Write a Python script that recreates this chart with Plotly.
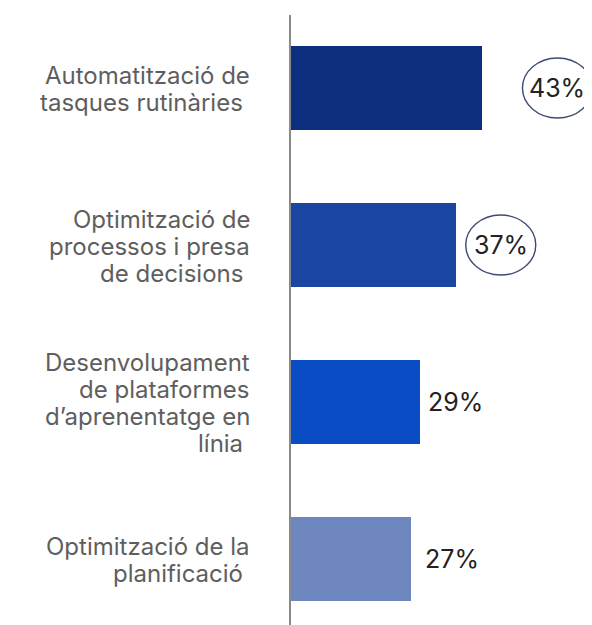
import plotly.graph_objects as go

categories = [
    "Automatització de<br>tasques rutinàries ",
    "Optimització de<br>processos i presa<br>de decisions ",
    "Desenvolupament<br>de plataformes<br>d’aprenentatge en<br>línia ",
    "Optimització de la<br>planificació ",
]
values = [43, 37, 29, 27]
value_labels = ["43%", "37%", "29%", "27%"]
circled = [True, True, False, False]
bar_colors = ["#0b2f7e", "#1a45a0", "#0a4cc4", "#6e87bf"]

FONT = "Inter, Lato, sans-serif"
ypos = list(range(len(categories)))

# page body has an 8px default margin; compensate so the plot sits like the reference
BODY = 8

fig = go.Figure()
fig.add_trace(go.Bar(
    x=values, y=ypos, orientation="h",
    marker=dict(color=bar_colors, line=dict(width=0)),
    width=0.535, hoverinfo="skip",
))

# category labels, one annotation per line, right aligned left of the axis
LINE = 27
for i, cat in enumerate(categories):
    lines = cat.split("<br>")
    n = len(lines)
    for k, ln in enumerate(lines):
        fig.add_annotation(
            x=0, y=i, xref="x", yref="y", text=ln, showarrow=False,
            xanchor="right", yanchor="middle", align="right",
            xshift=-39, yshift=((n - 1) / 2 - k) * LINE - 1,
            font=dict(family=FONT, size=24, color="#5e5e5e"),
        )

label_shift = [75, 45, 35, 41]
for i, (v, t, c) in enumerate(zip(values, value_labels, circled)):
    fig.add_annotation(
        x=v, y=i, xref="x", yref="y", text=t, showarrow=False,
        xshift=label_shift[i], yshift=0,
        font=dict(family=FONT, size=25, color="#222222"),
        xanchor="center", yanchor="middle",
    )
    if c:
        w = 70
        fig.add_shape(
            type="circle", xref="x", yref="y",
            xsizemode="pixel", ysizemode="pixel",
            xanchor=v, yanchor=i,
            x0=label_shift[i] - w / 2, x1=label_shift[i] + w / 2,
            y0=-30, y1=30,
            line=dict(color="#3e4b74", width=1.4),
            layer="above",
        )

fig.update_layout(
    width=592 - BODY, height=625 - BODY,
    margin=dict(l=291 - BODY, r=0, t=15 - BODY, b=0),
    paper_bgcolor="white", plot_bgcolor="white",
    showlegend=False,
    bargap=0,
    xaxis=dict(range=[0, 67.6], visible=False, fixedrange=True),
    yaxis=dict(
        range=[3.42, -0.465],
        showticklabels=False,
        showline=True, linecolor="#8a8a8a", linewidth=1.5,
        showgrid=False, zeroline=False, ticks="",
        fixedrange=True,
    ),
)

fig.write_html("out.html")
